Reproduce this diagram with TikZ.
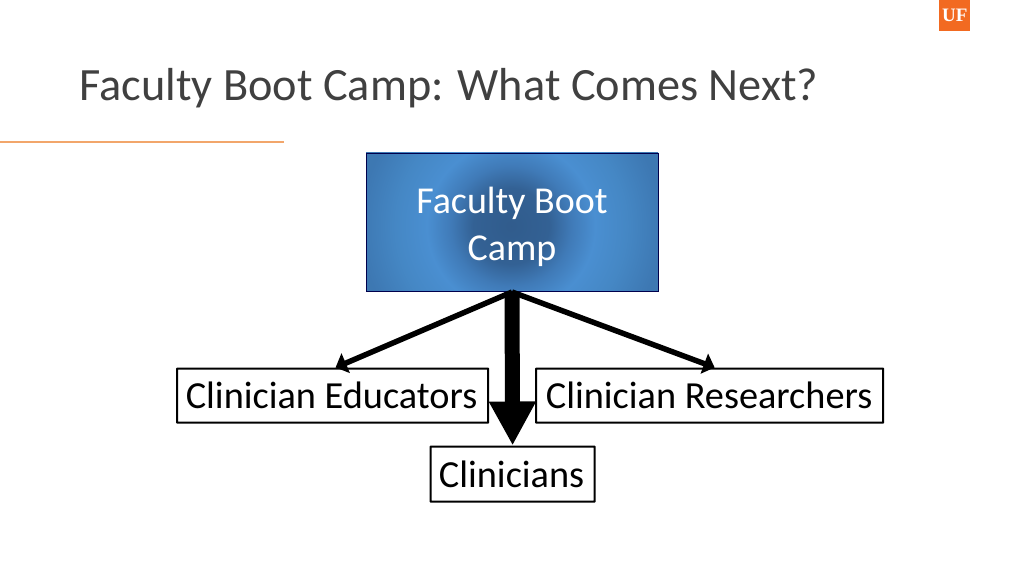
\documentclass[tikz,border=0pt]{standalone}
\usepackage{fontspec}
\setmainfont{Carlito}
\newfontfamily\logofont{Liberation Serif}
\usetikzlibrary{arrows.meta,calc}
\definecolor{ufo}{HTML}{F26A21}
\definecolor{rulec}{HTML}{F2A66B}
\definecolor{titlec}{HTML}{404040}
\pgfdeclareradialshading{bootshade}{\pgfpoint{0bp}{0bp}}{%
 rgb(0bp)=(0.19,0.36,0.55);
 rgb(5.4bp)=(0.20,0.38,0.58);
 rgb(8.6bp)=(0.25,0.48,0.72);
 rgb(12bp)=(0.29,0.56,0.82);
 rgb(16.5bp)=(0.27,0.53,0.77);
 rgb(21.5bp)=(0.24,0.47,0.70);
 rgb(50bp)=(0.24,0.47,0.70)}
\tikzset{
  x=1pt,y=1pt,
  lab/.style={draw=black,line width=2.2pt,fill=white,rounded corners=0.5pt,inner sep=0pt,font=\fontsize{38.3}{42}\selectfont,text=black,anchor=north west},
  thinarrow/.style={draw=black,line width=5.5pt,-{Triangle[length=11pt,width=21pt]}},
  fatarrow/.style={draw=black,line width=15pt,-{Triangle[length=44pt,width=44pt]}}
}
\begin{document}
\begin{tikzpicture}[line join=miter]
\useasboundingbox (0,0) rectangle (1024,576);
\fill[white] (0,0) rectangle (1024,576);
% title
\node[anchor=base west,inner sep=0pt,text=titlec,font=\fontsize{46.3}{50}\selectfont] (title) at (79.5,576-100.5) {Faculty Boot Camp: What Comes Next?};
% rule
\coordinate (ruleA) at (0,576-142);
\coordinate (ruleB) at (284,576-142);
\draw[rulec,line width=2pt] (ruleA) -- (ruleB);
% logo
\node[fill=ufo,minimum width=31pt,minimum height=31pt,inner sep=0pt,anchor=north west,text=white,font=\logofont\fontsize{19}{19}\selectfont\bfseries] (logo) at (939,576) {UF};
% shading behind the top box
\begin{scope}
\clip (366,576-153) rectangle (658,576-291);
\shade[shading=bootshade] (511,576-226) circle (175pt);
\end{scope}
% top box
\node[anchor=north west,minimum width=292pt,minimum height=138pt,inner sep=0pt,draw=black!70!blue,line width=1pt,
  label={[text=white,align=center,inner sep=0pt,font=\fontsize{38}{47}\selectfont,yshift=-4pt]center:{Faculty Boot\\Camp}}] (boot) at (365.5,576-153) {};
% boxes
\node[lab,minimum width=311pt,minimum height=54pt] (edu) at (176,576-367.5) {Clinician Educators\hspace*{2pt}};
\node[lab,minimum width=347pt,minimum height=54pt] (res) at (535,576-367.5) {Clinician Researchers\hspace*{1pt}};
\node[lab,minimum width=164pt,minimum height=55pt] (cli) at (429.5,576-445.5) {Clinicians\hspace*{2pt}};
% connectors
\draw[thinarrow] (boot.south) -- ([xshift=3pt]edu.north);
\draw[thinarrow] (boot.south) -- ([xshift=5pt]res.north);
\draw[fatarrow] (boot.south) -- (cli.north);
\end{tikzpicture}
\end{document}
